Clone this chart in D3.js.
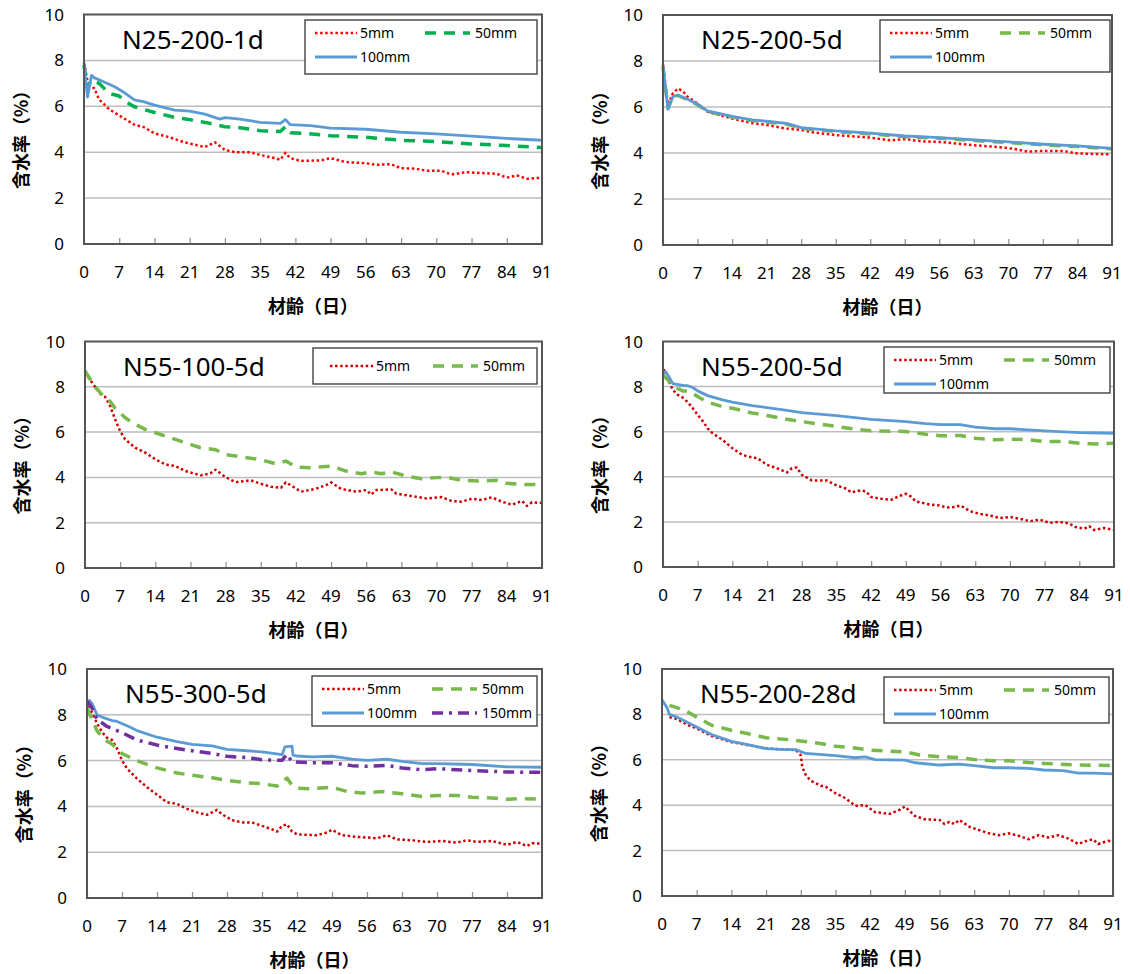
<!DOCTYPE html>
<head>
<meta charset="utf-8">
<style>
  body { margin: 0; background: #fff; }
  text { font-family: "Noto Sans", "Open Sans", sans-serif; fill: #000; }
  .jp { font-family: "Noto Sans CJK JP", sans-serif; font-weight: bold; }
</style>
</head>
<body>
<div id="my_dataviz"></div>
<script src="https://d3js.org/d3.v7.min.js"></script>
<script>

// x ticks (days) and y ticks (moisture %)
var dayTicks = [0, 7, 14, 21, 28, 35, 42, 49, 56, 63, 70, 77, 84, 91];
var pctTicks = [0, 2, 4, 6, 8, 10];

// ---- N25-200-1d ----
var n25_1d_5mm = [[0,7.9],[1,6.74],[2,6.8],[3,6.3],[5,5.87],[7,5.6],[10,5.2],[12,5.08],[14,4.82],[17,4.65],[20,4.43],[22,4.33],[24,4.22],[26,4.43],[28,4.1],[30,4.0],[33,4.0],[35,3.88],[38,3.74],[39,3.67],[40,3.97],[41,3.74],[43,3.62],[47,3.64],[49,3.74],[52,3.57],[56,3.52],[58,3.45],[61,3.48],[63,3.3],[66,3.28],[68,3.19],[71,3.19],[73,3.03],[76,3.13],[79,3.09],[82,3.06],[84,2.89],[86,2.99],[88,2.84],[91,2.89]];
var n25_1d_50mm = [[0,7.8],[0.7,6.8],[1.5,7.15],[3,7.0],[5,6.56],[7,6.45],[8,6.24],[10,5.98],[14,5.73],[18,5.52],[21,5.42],[24,5.3],[28,5.11],[31,5.07],[35,4.94],[39,4.9],[40,5.11],[41,4.85],[44,4.82],[49,4.72],[56,4.65],[63,4.52],[70,4.46],[77,4.36],[84,4.29],[91,4.2]];
var n25_1d_100mm = [[0,7.8],[0.7,6.4],[1.5,7.35],[2,7.25],[4,7.06],[6,6.86],[8,6.6],[10,6.28],[12,6.19],[14,6.05],[18,5.83],[21,5.79],[24,5.66],[27,5.44],[28,5.51],[31,5.44],[35,5.3],[39,5.26],[40,5.42],[41,5.2],[45,5.16],[49,5.05],[56,5.0],[63,4.87],[70,4.8],[77,4.7],[84,4.6],[91,4.52]];

// ---- N25-200-5d ----
var n25_5d_5mm = [[0,7.85],[1,6.1],[2,6.59],[3,6.8],[4,6.7],[5,6.44],[7,6.15],[9,5.8],[14,5.5],[18,5.3],[21,5.22],[25,5.06],[28,5.0],[31,4.88],[35,4.78],[42,4.67],[46,4.55],[49,4.6],[53,4.5],[56,4.48],[60,4.4],[63,4.34],[70,4.22],[74,4.06],[77,4.09],[81,4.09],[84,3.98],[91,3.94]];
var n25_5d_50mm = [[0,7.75],[1,5.95],[2,6.42],[3,6.5],[5,6.32],[7,6.1],[9,5.8],[14,5.56],[18,5.41],[21,5.35],[25,5.26],[28,5.07],[35,4.93],[42,4.83],[49,4.71],[56,4.64],[63,4.54],[70,4.45],[77,4.35],[84,4.28],[91,4.18]];
var n25_5d_100mm = [[0,7.78],[1,5.9],[2,6.45],[3,6.52],[5,6.34],[7,6.12],[9,5.83],[14,5.59],[18,5.44],[21,5.38],[25,5.29],[28,5.1],[35,4.96],[42,4.86],[49,4.74],[56,4.67],[63,4.57],[70,4.48],[77,4.38],[84,4.31],[91,4.2]];

// ---- N55-100-5d ----
var n55_100_5mm = [[0,8.62],[2,8.0],[3,7.7],[4,7.56],[5,7.16],[6,6.56],[7,6.04],[8,5.68],[10,5.31],[12,5.09],[14,4.8],[16,4.57],[18,4.5],[20,4.28],[23,4.09],[25,4.18],[26,4.34],[28,4.01],[30,3.79],[33,3.87],[35,3.72],[37,3.59],[39,3.54],[40,3.78],[42,3.51],[43,3.37],[46,3.5],[48,3.66],[49,3.78],[51,3.49],[54,3.37],[56,3.44],[57,3.24],[58,3.44],[61,3.47],[62,3.28],[65,3.18],[68,3.07],[71,3.13],[73,2.96],[75,2.93],[77,3.06],[79,3.0],[81,3.12],[83,2.93],[85,2.79],[87,2.96],[88,2.74],[89,2.9],[91,2.87]];
var n55_100_50mm = [[0,8.7],[2,8.0],[4,7.5],[5,7.35],[6,7.05],[7,6.85],[8,6.63],[10,6.34],[12,6.12],[14,5.97],[17,5.75],[20,5.53],[23,5.31],[26,5.22],[28,5.01],[31,4.91],[35,4.78],[38,4.6],[40,4.72],[42,4.46],[45,4.43],[49,4.5],[52,4.28],[55,4.16],[57,4.25],[59,4.16],[61,4.24],[64,4.06],[67,3.94],[70,3.99],[72,4.01],[75,3.87],[79,3.84],[82,3.87],[84,3.74],[87,3.69],[91,3.69]];

// ---- N55-200-5d ----
var n55_200_5d_5mm = [[0,8.69],[0.5,8.75],[1,8.3],[2,7.85],[3,7.63],[4,7.51],[5,7.31],[6,7.04],[7,6.75],[8,6.48],[9,6.15],[10,5.93],[12,5.64],[14,5.27],[16,4.97],[18,4.86],[19,4.83],[21,4.53],[23,4.38],[25,4.19],[26,4.38],[27,4.41],[28,4.09],[30,3.84],[33,3.84],[35,3.62],[37,3.47],[38,3.31],[40,3.4],[41,3.35],[42,3.1],[44,3.03],[46,2.98],[48,3.17],[49,3.25],[50,3.13],[51,2.91],[54,2.76],[56,2.73],[57,2.64],[59,2.66],[60,2.73],[62,2.47],[64,2.35],[66,2.28],[68,2.17],[70,2.22],[72,2.14],[74,2.03],[76,2.1],[78,1.96],[80,2.0],[82,1.93],[83,1.78],[85,1.7],[86,1.81],[87,1.64],[89,1.73],[91,1.64]];
var n55_200_5d_50mm = [[0,8.5],[1,8.3],[2,8.0],[4,7.81],[5,7.8],[6,7.7],[7,7.56],[9,7.31],[12,7.11],[14,7.04],[18,6.83],[21,6.72],[25,6.55],[28,6.45],[35,6.23],[39,6.11],[42,6.04],[49,6.01],[53,5.89],[56,5.82],[60,5.83],[63,5.71],[67,5.64],[70,5.67],[74,5.64],[77,5.56],[81,5.56],[84,5.49],[87,5.46],[91,5.49]];
var n55_200_5d_100mm = [[0,8.58],[0.5,8.65],[1,8.5],[2,8.13],[4,8.05],[5,8.04],[6,7.96],[7,7.81],[9,7.6],[12,7.41],[14,7.31],[18,7.16],[21,7.07],[25,6.95],[28,6.85],[35,6.71],[42,6.55],[49,6.45],[53,6.36],[56,6.31],[60,6.31],[63,6.2],[67,6.13],[70,6.13],[77,6.04],[84,5.96],[91,5.93]];

// ---- N55-300-5d ----
var n55_300_5mm = [[0,8.6],[1,8.1],[2,7.63],[3,7.25],[4,7.0],[5,6.9],[6,6.53],[7,6.01],[8,5.65],[10,5.21],[12,4.84],[14,4.51],[16,4.18],[18,4.11],[20,3.89],[22,3.74],[24,3.63],[26,3.85],[27,3.66],[29,3.4],[31,3.3],[33,3.3],[35,3.15],[37,3.0],[38,2.9],[39,3.15],[40,3.22],[41,2.9],[42,2.78],[46,2.74],[48,2.86],[49,2.98],[51,2.74],[54,2.67],[56,2.64],[58,2.61],[60,2.74],[62,2.56],[65,2.52],[68,2.45],[71,2.49],[74,2.42],[76,2.52],[78,2.45],[81,2.49],[84,2.32],[86,2.45],[88,2.27],[89,2.39],[91,2.38]];
var n55_300_50mm = [[0,8.3],[1,7.8],[2,7.3],[3,7.05],[4,6.85],[5,6.72],[7,6.31],[10,5.99],[14,5.68],[18,5.46],[21,5.36],[25,5.25],[28,5.14],[32,5.03],[35,4.99],[38,4.89],[40,5.24],[41,4.92],[42,4.8],[45,4.77],[49,4.84],[52,4.65],[55,4.58],[59,4.65],[63,4.55],[67,4.43],[70,4.48],[74,4.48],[77,4.4],[81,4.37],[84,4.31],[87,4.34],[91,4.31]];
var n55_300_100mm = [[0,8.51],[0.5,8.62],[1,8.5],[2,8.0],[3,7.9],[5,7.75],[6,7.71],[8,7.52],[10,7.31],[14,7.02],[18,6.83],[21,6.71],[25,6.64],[28,6.49],[32,6.43],[35,6.38],[39,6.26],[39.6,6.6],[41,6.63],[41.2,6.24],[42,6.2],[45,6.16],[49,6.19],[53,6.06],[56,6.01],[60,6.06],[63,5.97],[67,5.87],[70,5.87],[77,5.83],[84,5.73],[91,5.71]];
var n55_300_150mm = [[0,8.6],[1,8.3],[2,7.8],[4,7.49],[7,7.22],[10,6.9],[14,6.68],[18,6.53],[21,6.43],[25,6.31],[28,6.19],[32,6.13],[35,6.04],[39,6.01],[40,6.28],[41,5.94],[45,5.91],[49,5.91],[53,5.78],[56,5.75],[60,5.79],[63,5.68],[67,5.6],[70,5.65],[74,5.6],[77,5.57],[84,5.5],[91,5.49]];

// ---- N55-200-28d ----
var n55_28d_5mm = [[1.5,7.88],[3,7.8],[5,7.55],[7,7.38],[10,7.05],[14,6.78],[18,6.62],[21,6.5],[25,6.45],[27,6.43],[28,6.2],[28.3,5.69],[29,5.33],[30,5.08],[32,4.86],[33,4.82],[35,4.53],[37,4.31],[39,3.97],[41,4.01],[43,3.69],[46,3.62],[48,3.8],[49,3.94],[51,3.53],[53,3.38],[56,3.35],[57,3.17],[58,3.27],[59,3.17],[60,3.35],[62,3.05],[64,2.9],[66,2.76],[68,2.68],[70,2.76],[72,2.65],[74,2.5],[76,2.68],[78,2.58],[80,2.68],[82,2.53],[84,2.29],[86,2.46],[87,2.49],[88,2.29],[90,2.43],[91,2.38]];
var n55_28d_50mm = [[1.5,8.4],[3,8.3],[5,8.13],[7,7.88],[10,7.52],[14,7.3],[18,7.12],[21,6.97],[25,6.9],[28,6.83],[32,6.72],[35,6.6],[39,6.52],[42,6.42],[46,6.38],[49,6.35],[52,6.21],[56,6.13],[60,6.1],[63,6.01],[67,5.96],[70,5.96],[74,5.88],[77,5.84],[84,5.77],[91,5.75]];
var n55_28d_100mm = [[0,8.64],[1,8.3],[1.5,8.0],[3,7.88],[5,7.66],[7,7.44],[10,7.11],[14,6.81],[18,6.64],[21,6.49],[25,6.45],[27,6.45],[29,6.28],[35,6.18],[39,6.09],[41,6.13],[43,6.01],[49,5.99],[51,5.87],[56,5.77],[60,5.81],[63,5.74],[67,5.65],[70,5.65],[74,5.62],[77,5.55],[81,5.52],[84,5.41],[87,5.41],[91,5.38]];

// line styles per depth
var styles = {
  red1:   {color: "#ff0000", width: 2.5, dash: "2.5,2.6"},
  red:    {color: "#cc0000", width: 2.5, dash: "2.5,2.6"},
  green1: {color: "#00b050", width: 3.5, dash: "11,8"},
  green:  {color: "#79b84a", width: 3.5, dash: "11,8"},
  blue:   {color: "#5b9bd5", width: 2.8, dash: null},
  purple: {color: "#7030a0", width: 3.5, dash: "11,6,3,6"}
};

var panels = [
  {title: "N25-200-1d", l: 84, t: 14.5, r: 542, b: 244, leg: [305, 20, 232, 54],
   series: [["5mm", n25_1d_5mm, "red1"], ["50mm", n25_1d_50mm, "green1"], ["100mm", n25_1d_100mm, "blue"]]},
  {title: "N25-200-5d", l: 663, t: 15, r: 1112, b: 245, leg: [880, 20, 230, 52],
   series: [["5mm", n25_5d_5mm, "red1"], ["50mm", n25_5d_50mm, "green"], ["100mm", n25_5d_100mm, "blue"]]},
  {title: "N55-100-5d", l: 85, t: 341.5, r: 542, b: 568, leg: [313, 348, 224, 36],
   series: [["5mm", n55_100_5mm, "red"], ["50mm", n55_100_50mm, "green"]]},
  {title: "N55-200-5d", l: 663, t: 341.5, r: 1114, b: 567, leg: [884, 347, 226, 46],
   series: [["5mm", n55_200_5d_5mm, "red"], ["50mm", n55_200_5d_50mm, "green"], ["100mm", n55_200_5d_100mm, "blue"]]},
  {title: "N55-300-5d", l: 87, t: 669, r: 542, b: 898, leg: [312, 676, 225, 50],
   series: [["5mm", n55_300_5mm, "red"], ["50mm", n55_300_50mm, "green"], ["100mm", n55_300_100mm, "blue"], ["150mm", n55_300_150mm, "purple"]]},
  {title: "N55-200-28d", l: 662, t: 669, r: 1113, b: 896, leg: [884, 677, 225, 46],
   series: [["5mm", n55_28d_5mm, "red"], ["50mm", n55_28d_50mm, "green"], ["100mm", n55_28d_100mm, "blue"]]}
];

var svg = d3.select("#my_dataviz")
  .append("svg")
    .attr("width", 1130)
    .attr("height", 974);

panels.forEach(function(p, i) {
  var x = d3.scaleLinear().domain([0, 91]).range([p.l, p.r]);
  var y = d3.scaleLinear().domain([0, 10]).range([p.b, p.t]);
  var g = svg.append("g");

  // gridlines
  g.selectAll(".grid")
    .data(pctTicks.filter(function(v) { return v > 0 && v < 10; }))
    .enter().append("line")
      .attr("x1", p.l).attr("x2", p.r)
      .attr("y1", function(d) { return y(d); })
      .attr("y2", function(d) { return y(d); })
      .style("stroke", "#bdbdbd").style("stroke-width", 1.5);

  // x axis ticks (inside, upward)
  g.append("g")
    .attr("transform", "translate(0," + p.b + ")")
    .call(d3.axisBottom(x).tickValues(dayTicks).tickSize(-6).tickFormat(""))
    .call(function(a) {
      a.select(".domain").remove();
      a.selectAll("line").style("stroke", "#8c8c8c").style("stroke-width", 1.2);
    });

  // tick labels
  g.selectAll(".xl").data(dayTicks).enter().append("text")
    .attr("x", function(d) { return x(d); })
    .attr("y", p.b + 34)
    .attr("text-anchor", "middle")
    .style("font-size", "17px")
    .text(function(d) { return d; });
  g.selectAll(".yl").data(pctTicks).enter().append("text")
    .attr("x", p.l - 20)
    .attr("y", function(d) { return y(d) + 6; })
    .attr("text-anchor", "end")
    .style("font-size", "17px")
    .text(function(d) { return d; });

  // axis titles
  g.append("text").attr("class", "jp")
    .attr("x", (p.l + p.r) / 2)
    .attr("y", p.b + 69)
    .attr("text-anchor", "middle")
    .style("font-size", "18px")
    .text("材齢（日）");
  var cy = (p.t + p.b) / 2 + 6;
  g.append("text").attr("class", "jp")
    .attr("transform", "translate(" + (p.l - 56) + "," + cy + ") rotate(-90)")
    .attr("text-anchor", "middle")
    .style("font-size", "18px")
    .text("含水率（%）");

  // series lines
  var line = d3.line()
    .x(function(d) { return x(d[0]); })
    .y(function(d) { return y(d[1]); });
  p.series.forEach(function(s) {
    var st = styles[s[2]];
    g.append("path")
      .datum(s[1])
      .attr("d", line)
      .style("fill", "none")
      .style("stroke", st.color)
      .style("stroke-width", st.width)
      .style("stroke-dasharray", st.dash)
      .style("stroke-linejoin", "round");
  });

  // plot border
  g.append("rect")
    .attr("x", p.l).attr("y", p.t)
    .attr("width", p.r - p.l).attr("height", p.b - p.t)
    .style("fill", "none")
    .style("stroke", "#555").style("stroke-width", 2);

  // panel title
  g.append("text")
    .attr("x", p.l + 38)
    .attr("y", p.t + 34)
    .style("font-size", "26px")
    .text(p.title);

  // legend
  var lx = p.leg[0], ly = p.leg[1], lw = p.leg[2], lh = p.leg[3];
  g.append("rect")
    .attr("x", lx).attr("y", ly).attr("width", lw).attr("height", lh)
    .style("fill", "#fff").style("stroke", "#333").style("stroke-width", 1.3);
  var oneRow = p.series.length <= 2;
  p.series.forEach(function(s, k) {
    var st = styles[s[2]];
    var col = k % 2, row = Math.floor(k / 2);
    var yy = oneRow ? ly + lh / 2 : ly + 13 + row * 24;
    var x0 = col === 0 ? lx + (oneRow ? 17 : 10) : lx + 120;
    var x1 = col === 0 ? lx + (oneRow ? 60 : 52) : lx + 165;
    var tx = col === 0 ? x1 + 3 : lx + 170;
    g.append("line")
      .attr("x1", x0).attr("x2", x1).attr("y1", yy).attr("y2", yy)
      .style("stroke", st.color)
      .style("stroke-width", st.width)
      .style("stroke-dasharray", st.dash);
    g.append("text")
      .attr("x", tx).attr("y", yy + 5)
      .style("font-size", "14px")
      .text(s[0]);
  });
});

</script>
</body>
